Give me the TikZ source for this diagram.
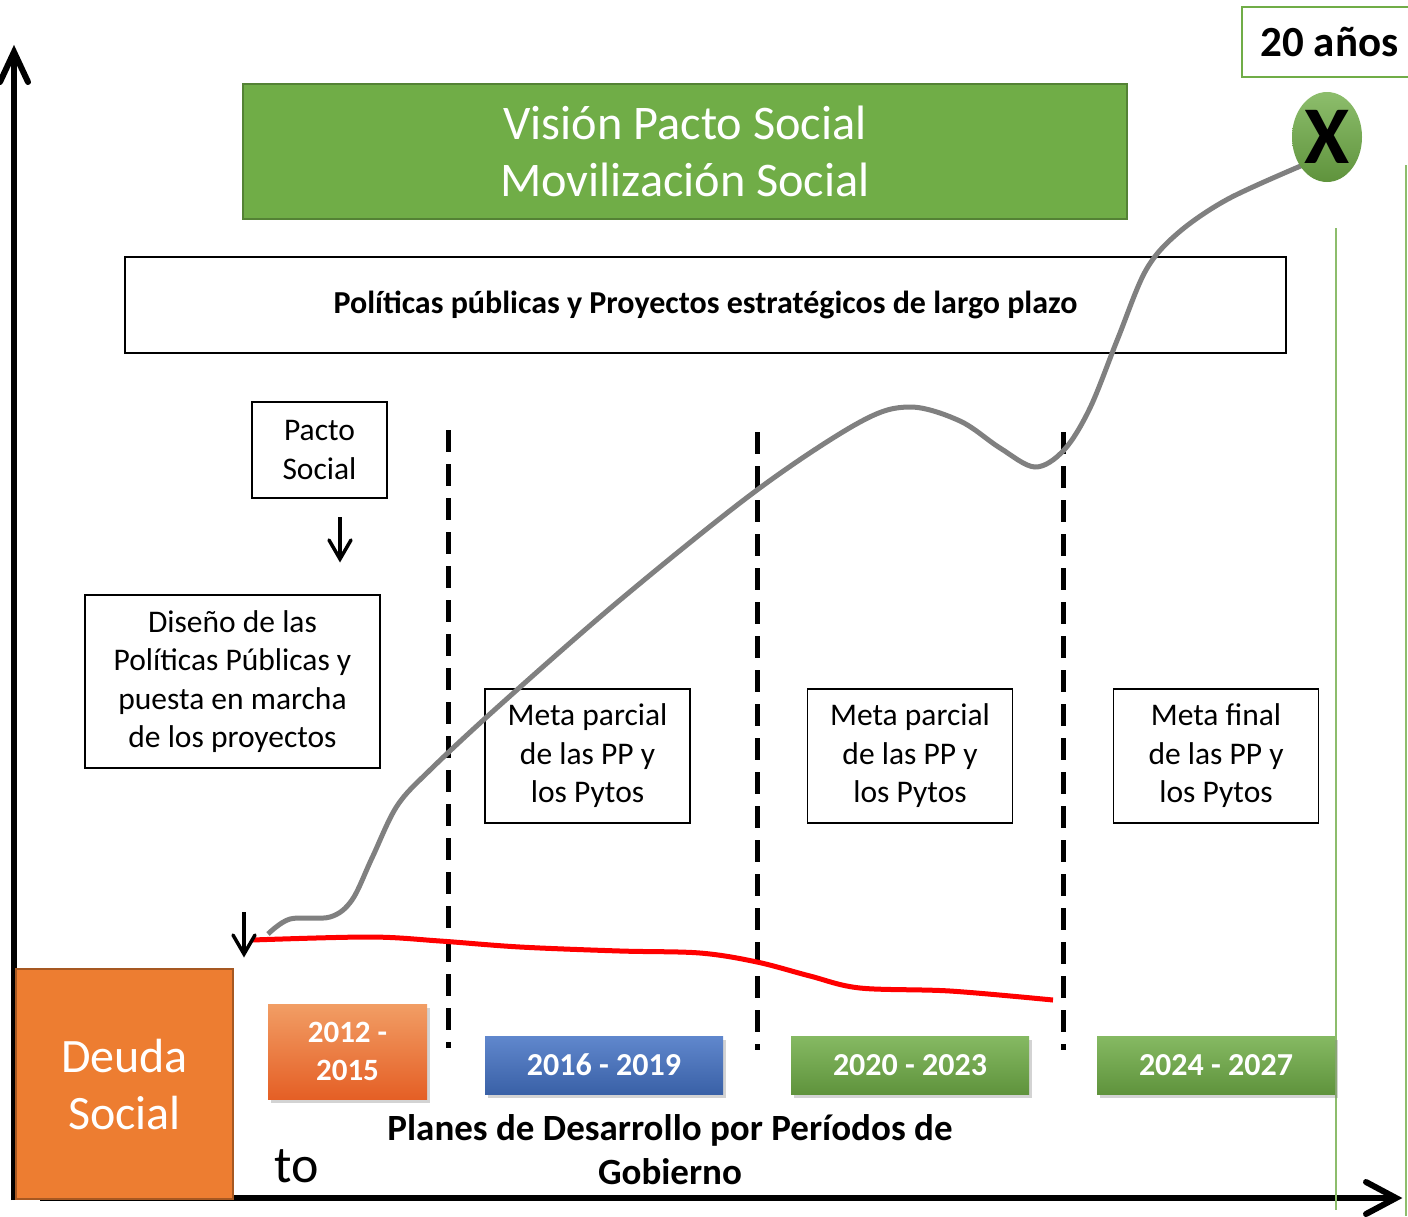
\documentclass[tikz,border=0pt]{standalone}
\usepackage{fontspec}
\setmainfont{Carlito}
\usetikzlibrary{shapes.geometric,shadows}
\definecolor{verde}{HTML}{70AD47}
\definecolor{verdeosc}{HTML}{548235}
\definecolor{naranja}{HTML}{ED7D31}
\definecolor{azul}{HTML}{4472C4}
\definecolor{gris}{HTML}{808080}
\newcommand{\fs}[2]{\fontsize{#1}{#2}\selectfont}
\begin{document}
\begin{tikzpicture}[x=1pt,y=-1pt,
  caja/.style={draw, fill=white, line width=1.5pt, align=center, inner sep=0pt, font=\fs{31.5}{38.5}},
  periodo/.style={align=center, inner sep=0pt, text=white, font=\bfseries\fs{31}{38},
    drop shadow={shadow xshift=3pt, shadow yshift=-4pt, opacity=0.35}},
  divisor/.style={line width=5pt, dash pattern=on 22pt off 12pt},
  flecha/.style={line width=3.5pt, line cap=round, line join=miter},
  eje/.style={line width=6pt, line cap=round, line join=miter}]
\useasboundingbox (0,0) rectangle (1408,1216);
\clip (0,0) rectangle (1408,1216);
% ejes
\coordinate (o1) at (14,1200);
\coordinate (ytop) at (14,52);
\coordinate (o2) at (40,1198);
\coordinate (xend) at (1396,1198);
\draw[eje, line cap=butt] (o1) -- (ytop);
\draw[eje] (ytop) ++(-14,30) -- (ytop) -- ++(14,30);
\draw[eje, line cap=butt] (o2) -- (xend);
\draw[eje] (xend) ++(-30,-16) -- (xend) -- ++(-30,16);
% lineas verdes
\draw[verde!80, line width=1.5pt] (1336,228) -- (1336,1210);
\draw[verde!80, line width=1.5pt] (1406,165) -- (1406,1216);
% cajas
\node[draw=verdeosc, line width=1.5pt, fill=verde, text=white, align=center, minimum width=884pt, minimum height=135pt, font=\fs{48.3}{57}] (vision) at (685,151.5) {Visión Pacto Social\\Movilización Social};
\node[caja, minimum width=1161pt, minimum height=96pt, font=\bfseries\fs{32}{38}] (politicas) at (705.5,305) {Políticas públicas y Proyectos estratégicos de largo plazo};
\node[caja, minimum width=135pt, minimum height=96pt] (pacto) at (319.5,450) {Pacto\\Social};
\node[caja, minimum width=295pt, minimum height=173pt] (diseno) at (232.5,681.5) {Diseño de las\\Políticas Públicas y\\puesta en marcha\\de los proyectos};
\node[caja, minimum width=205pt, minimum height=134pt] (meta1) at (587.5,756) {Meta parcial\\de las PP y\\los Pytos};
\node[caja, minimum width=205pt, minimum height=134pt] (meta2) at (910,756) {Meta parcial\\de las PP y\\los Pytos};
\node[caja, minimum width=205pt, minimum height=134pt] (meta3) at (1216,756) {Meta final\\de las PP y\\los Pytos};
\node[draw=naranja!70!black, line width=2pt, fill=naranja, text=white, align=center, minimum width=217pt, minimum height=230pt, font=\fs{48}{57}] (deuda) at (124.5,1084) {Deuda\\Social};
\node[draw=verde, line width=2pt, fill=white, minimum width=173pt, minimum height=70pt, font=\bfseries\fs{43}{50}] (anos) at (1328.5,42) {\hspace*{2pt}20 años};
% periodos
\node[periodo, top color=naranja!75!white, bottom color=naranja!80!red!95!black, minimum width=159pt, minimum height=95pt] (p1) at (347.5,1051.5) {2012 -\\2015};
\node[periodo, top color=azul!85!white, bottom color=azul!85!black, minimum width=238pt, minimum height=58pt, font=\bfseries\fs{32}{38}] (p2) at (604,1065) {2016 - 2019};
\node[periodo, top color=verde!85!white, bottom color=verde!85!black, minimum width=238pt, minimum height=58pt, font=\bfseries\fs{32}{38}] (p3) at (910,1065) {2020 - 2023};
\node[periodo, top color=verde!85!white, bottom color=verde!85!black, minimum width=238pt, minimum height=58pt, font=\bfseries\fs{32}{38}] (p4) at (1216,1065) {2024 - 2027};
\node[align=center, font=\bfseries\fs{37}{44}] (planes) at (670,1150) {Planes de Desarrollo por Períodos de\\Gobierno};
\node[font=\fs{52}{60}] (t0) at (297,1166) {to};
% divisiones
\draw[divisor] (448,430) -- (448,1048);
\draw[divisor] (757,432) -- (757,1050);
\draw[divisor] (1063,432) -- (1063,1050);
% curvas
\draw[red, line width=5pt] plot[smooth, tension=0.55] coordinates {(252,940) (370,937) (440,941) (520,947) (620,951) (700,953) (757,962) (810,976) (860,988) (950,991) (1053,1000)};
\draw[gris, line width=5pt] plot[smooth, tension=0.55] coordinates {(268,934) (290,919) (330,917) (352,900) (372,858) (397,806) (430,770) (500,705) (620,600) (757,490) (860,422) (910,407) (960,421) (1000,448) (1035,467) (1064,450) (1090,408) (1118,338) (1146,270) (1178,233) (1228,199) (1303,165)};
% meta
\node[ellipse, top color=verde!80!white, bottom color=verde!85!black, minimum width=70pt, minimum height=90pt, inner sep=0pt, font=\bfseries\fs{82}{82}] (meta) at (1327,137) {X};
% flechas
\coordinate (a1) at (340,517);
\coordinate (a2) at (340,559);
\draw[flecha, line cap=butt] (a1) -- (a2);
\draw[flecha] (a2) ++(-11,-19) -- (a2) -- ++(11,-19);
\coordinate (b1) at (244,912);
\coordinate (b2) at (244,954);
\draw[flecha, line cap=butt] (b1) -- (b2);
\draw[flecha] (b2) ++(-11,-19) -- (b2) -- ++(11,-19);
\end{tikzpicture}
\end{document}
